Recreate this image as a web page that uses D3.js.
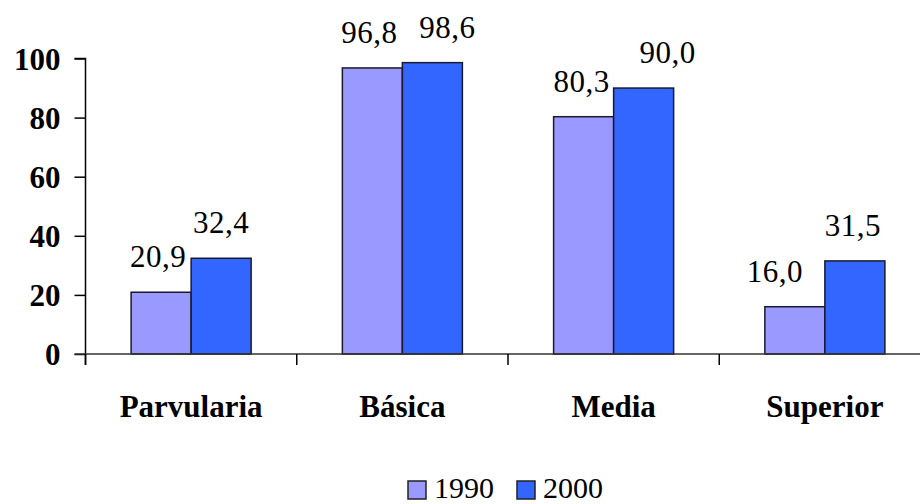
<!DOCTYPE html>
<html>
<head>
<meta charset="utf-8">
<script src="https://cdn.jsdelivr.net/npm/d3@7"></script>
<style>
  html, body { margin: 0; padding: 0; background: #fff; }
  svg { display: block; }
</style>
</head>
<body>
<svg id="chart" width="920" height="504"></svg>
<script>
// Enrolment rates by education level
const categories = ["Parvularia", "Básica", "Media", "Superior"];
const seriesNames = ["1990", "2000"];
const values1990 = [20.9, 96.8, 80.3, 16.0];
const values2000 = [32.4, 98.6, 90.0, 31.5];
const yTicks = [0, 20, 40, 60, 80, 100];

const colors = { "1990": "#9999FF", "2000": "#3366FF" };
// small horizontal nudges for value labels (px), per series then category
const labelShift = { "1990": [-3, -3, -2, -20], "2000": [0, 15, 24, -2] };
const FONT = "\"Liberation Serif\", \"Times New Roman\", serif";

const svg = d3.select("#chart");
const plotLeft = 85.5, plotRight = 930.5, plotTop = 58.5, plotBottom = 354;

const x0 = d3.scaleBand().domain(categories).range([plotLeft, plotRight]).padding(0);
const x1 = d3.scaleBand().domain(seriesNames)
  .range([0, x0.bandwidth()]).paddingInner(0).paddingOuter(0.76);
const y = d3.scaleLinear().domain([0, 100]).range([plotBottom, plotTop]);

const series = [
  { name: "1990", values: values1990 },
  { name: "2000", values: values2000 }
];

// bars
const groups = svg.append("g").selectAll("g")
  .data(series).join("g");

groups.selectAll("rect")
  .data(s => s.values.map((v, i) => ({ s: s.name, c: categories[i], v })))
  .join("rect")
  .attr("x", d => x0(d.c) + x1(d.s))
  .attr("y", d => y(d.v))
  .attr("width", x1.bandwidth())
  .attr("height", d => y(0) - y(d.v))
  .attr("fill", d => colors[d.s])
  .attr("stroke", "#1a1a2e")
  .attr("stroke-width", 1.5);

// value labels
groups.selectAll("text")
  .data(s => s.values.map((v, i) => ({ s: s.name, c: categories[i], v, i })))
  .join("text")
  .attr("x", d => x0(d.c) + x1(d.s) + x1.bandwidth() / 2 + labelShift[d.s][d.i])
  .attr("y", d => y(d.v) - 25)
  .attr("text-anchor", "middle")
  .attr("fill", "#000")
  .style("font-family", FONT)
  .style("font-size", "31px")
  .style("letter-spacing", "0.5px")
  .text(d => d.v.toFixed(1).replace(".", ","));

// y axis
const yAxis = d3.axisLeft(y).tickValues(yTicks).tickSize(11).tickPadding(14)
  .tickFormat(d3.format("d"));
const gy = svg.append("g").attr("transform", `translate(${plotLeft},0)`).call(yAxis);
gy.select(".domain").attr("stroke", "#000").attr("stroke-width", 1.5)
  .attr("d", `M-11,${plotTop}H0V${plotBottom + 11}`);
gy.selectAll(".tick line").attr("stroke", "#000").attr("stroke-width", 1.5);
gy.selectAll(".tick text")
  .attr("dy", "0.34em")
  .style("font-family", FONT)
  .style("font-size", "31px")
  .style("font-weight", "bold");

// x axis
const gx = svg.append("g").attr("transform", `translate(0,${plotBottom})`);
gx.append("line")
  .attr("x1", plotLeft - 11).attr("x2", plotRight)
  .attr("stroke", "#333").attr("stroke-width", 1.5);
const boundaries = categories.map(c => x0(c)).concat([x0.range()[1]]);
gx.selectAll("line.cat")
  .data(boundaries).join("line").attr("class", "cat")
  .attr("x1", d => d).attr("x2", d => d)
  .attr("y1", 0).attr("y2", 11)
  .attr("stroke", "#000").attr("stroke-width", 1.5);
gx.selectAll("text")
  .data(categories).join("text")
  .attr("x", d => x0(d) + x0.bandwidth() / 2)
  .attr("y", 63)
  .attr("text-anchor", "middle")
  .style("font-family", FONT)
  .style("font-size", "31px")
  .style("font-weight", "bold")
  .text(d => d);

// legend
const legend = svg.append("g").attr("transform", "translate(408,479)");
const legendStep = 109;
const li = legend.selectAll("g").data(seriesNames).join("g")
  .attr("transform", (d, i) => `translate(${i * legendStep},0)`);
li.append("rect")
  .attr("y", 2)
  .attr("width", 18).attr("height", 18)
  .attr("fill", d => colors[d])
  .attr("stroke", "#222").attr("stroke-width", 1.5);
li.append("text")
  .attr("x", 26).attr("y", 19)
  .style("font-family", FONT)
  .style("font-size", "30px")
  .text(d => d);
</script>
</body>
</html>
